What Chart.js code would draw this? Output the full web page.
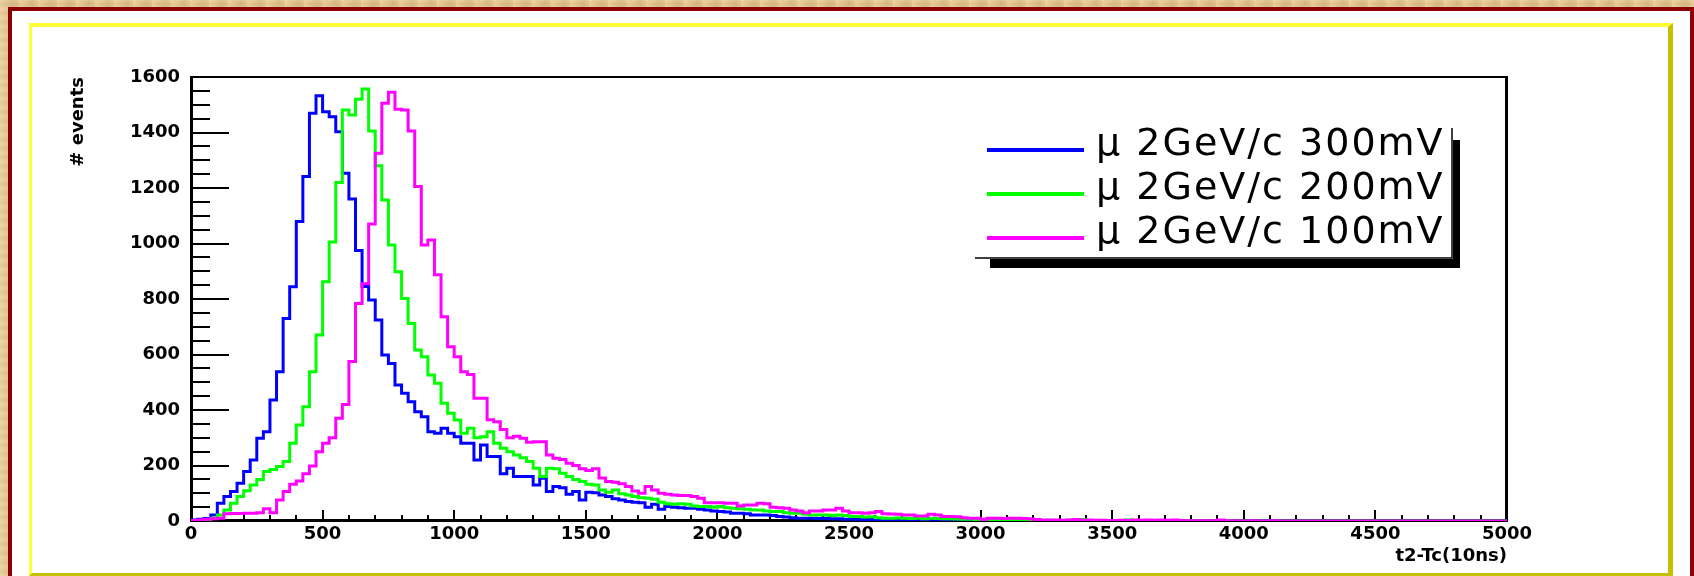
<!DOCTYPE html>
<html>
<head>
<meta charset="utf-8">
<script src="https://cdn.jsdelivr.net/npm/chart.js@4.4.1/dist/chart.umd.min.js"></script>
<style>
  html, body { margin: 0; padding: 0; width: 1694px; height: 576px; overflow: hidden; }
  body {
    background-color: #e2c48f;
    background-image:
      repeating-linear-gradient(90deg, rgba(255,240,200,0.25) 0px, rgba(255,240,200,0.0) 7px, rgba(150,110,50,0.12) 13px, rgba(255,240,200,0.0) 19px),
      repeating-linear-gradient(0deg, rgba(255,235,190,0.2) 0px, rgba(160,120,60,0.08) 5px, rgba(255,235,190,0.2) 9px);
    position: relative;
  }
  #redframe { position: absolute; left: 8px; top: 7px; width: 1686px; height: 640px; box-sizing: border-box;
    border: 4px solid #8b0000; background: #ffffff; }
  #padframe { position: absolute; left: 29px; top: 23px; width: 1644px; height: 553px; box-sizing: border-box;
    border-style: solid; border-width: 4px 5px 3px 3px; border-color: #ffff33 #c4c000 #c4c000 #ffff33; background: #ffffff; }
  #chart { position: absolute; left: 0; top: 0; }
</style>
</head>
<body>
<div id="redframe"></div>
<div id="padframe"></div>
<canvas id="chart" width="1694" height="576"></canvas>
<script>
// ---------------- data ----------------
const X_MIN = 0;
const X_MAX = 5000;
const BIN_WIDTH = 25;                       // 200 bins from 0 to 5000
const Y_MIN = 0;
const Y_MAX = 1600;

const xTickLabels = ['0', '500', '1000', '1500', '2000', '2500', '3000', '3500', '4000', '4500', '5000'];
const yTickLabels = ['0', '200', '400', '600', '800', '1000', '1200', '1400', '1600'];

const xTitle = 't2-Tc(10ns)';
const yTitle = '# events';

const seriesLabels = ['\u03bc 2GeV/c 300mV', '\u03bc 2GeV/c 200mV', '\u03bc 2GeV/c 100mV'];

// bin contents (events per 25-unit bin)
const counts300mV = [
  4, 6, 9, 22, 64, 88, 106, 136, 178, 220, 298, 322, 436, 538, 730, 844, 1079, 1241, 1469, 1532,
  1475, 1457, 1403, 1253, 1160, 975, 845, 796, 724, 598, 568, 490, 460, 430, 394, 376, 322, 316, 334, 316,
  304, 280, 280, 220, 274, 232, 232, 170, 190, 160, 160, 160, 130, 154, 106, 124, 120, 96, 106, 76,
  104, 102, 94, 88, 80, 76, 70, 68, 66, 50, 60, 42, 52, 50, 48, 46, 46, 42, 40, 36,
  34, 32, 28, 28, 26, 22, 22, 22, 20, 16, 14, 12, 10, 10, 10, 9, 10, 8, 8, 6,
  6, 6, 5, 6, 5, 4, 4, 3, 4, 3, 4, 3, 3, 4, 2, 3, 3, 2, 3, 2,
  3, 2, 2, 1, 2, 1, 1, 2, 1, 1, 2, 1, 1, 0, 1, 3, 0, 1, 0, 1,
  0, 1, 0, 0, 1, 0, 0, 0, 1, 0, 0, 0, 0, 1, 0, 0, 0, 0, 0, 0,
  0, 0, 0, 0, 0, 0, 0, 0, 0, 0, 0, 0, 0, 0, 0, 0, 0, 0, 0, 0,
  0, 0, 0, 0, 0, 0, 0, 0, 0, 0, 0, 0, 0, 0, 0, 0, 0, 0, 0, 0
];
const counts200mV = [
  0, 1, 3, 10, 22, 40, 64, 88, 109, 130, 150, 178, 186, 196, 214, 280, 346, 412, 538, 670,
  862, 1005, 1220, 1481, 1463, 1520, 1557, 1405, 1280, 1157, 995, 898, 802, 712, 616, 592, 526, 496, 424, 388,
  364, 316, 334, 300, 304, 322, 280, 262, 250, 238, 228, 214, 190, 160, 190, 188, 172, 160, 150, 142,
  132, 130, 112, 104, 112, 98, 94, 88, 84, 82, 78, 68, 62, 60, 62, 60, 54, 52, 52, 50,
  52, 48, 46, 44, 42, 40, 40, 36, 34, 34, 30, 28, 28, 24, 22, 22, 22, 20, 22, 20,
  16, 16, 14, 15, 12, 10, 10, 11, 10, 9, 10, 8, 10, 9, 8, 8, 7, 6, 6, 5,
  6, 4, 4, 3, 4, 3, 2, 3, 3, 2, 3, 2, 2, 3, 2, 5, 2, 1, 2, 1,
  2, 1, 4, 1, 1, 0, 1, 0, 1, 0, 0, 1, 0, 0, 0, 0, 0, 1, 0, 0,
  0, 0, 0, 0, 0, 0, 0, 0, 0, 0, 0, 0, 0, 0, 0, 0, 0, 0, 0, 0,
  0, 0, 0, 0, 0, 0, 0, 0, 0, 0, 0, 0, 0, 0, 0, 0, 0, 0, 0, 0
];
const counts100mV = [
  2, 4, 6, 8, 10, 26, 27, 27, 28, 28, 30, 44, 30, 76, 106, 132, 144, 170, 198, 250,
  280, 300, 370, 420, 575, 784, 855, 1070, 1325, 1505, 1545, 1484, 1481, 1405, 1205, 995, 1013, 887, 736, 628,
  592, 538, 528, 442, 442, 365, 358, 330, 300, 305, 298, 284, 286, 286, 238, 226, 222, 208, 200, 188,
  182, 188, 155, 142, 140, 134, 124, 108, 100, 124, 112, 100, 96, 94, 92, 92, 88, 82, 66, 66,
  66, 64, 64, 54, 58, 58, 64, 62, 50, 48, 46, 40, 36, 30, 36, 36, 40, 40, 46, 36,
  30, 30, 28, 30, 34, 26, 25, 24, 22, 22, 18, 18, 24, 22, 16, 16, 15, 12, 10, 10,
  6, 10, 10, 9, 10, 10, 9, 8, 5, 4, 4, 4, 3, 4, 5, 3, 4, 3, 3, 2,
  2, 3, 2, 4, 3, 4, 3, 4, 3, 4, 2, 1, 1, 1, 1, 1, 4, 1, 1, 0,
  0, 1, 0, 0, 1, 0, 0, 0, 0, 0, 0, 0, 0, 0, 0, 0, 0, 0, 0, 0,
  0, 0, 0, 0, 0, 0, 0, 0, 0, 0, 0, 0, 0, 0, 0, 0, 0, 0, 0, 0
];

const seriesColors = ['#0000ff', '#00ff00', '#ff00ff'];

// bin low edges (categories of the histogram)
const binLowEdges = counts300mV.map((_, i) => X_MIN + i * BIN_WIDTH);

function histPoints(values) {
  const pts = values.map((v, i) => ({ x: binLowEdges[i], y: v }));
  pts.push({ x: X_MAX, y: values[values.length - 1] });
  return pts;
}

// ---------------- plugins ----------------
const frameAndTicks = {
  id: 'frameAndTicks',
  beforeDatasetsDraw(chart) {
    const { ctx, chartArea: { left, top, right, bottom }, scales: { x, y } } = chart;
    ctx.save();
    ctx.strokeStyle = '#000000';
    ctx.lineCap = 'butt';
    // y ticks (inside, to the right)
    ctx.lineWidth = 2;
    for (let v = Y_MIN; v <= Y_MAX; v += 50) {
      const py = Math.round(y.getPixelForValue(v));
      const len = (v % 200 === 0) ? 38 : 19;
      ctx.beginPath(); ctx.moveTo(left, py); ctx.lineTo(left + len, py); ctx.stroke();
    }
    // x ticks (inside, upward)
    for (let v = X_MIN; v <= X_MAX; v += 100) {
      const px = Math.round(x.getPixelForValue(v));
      const len = (v % 500 === 0) ? 11 : 6;
      ctx.beginPath(); ctx.moveTo(px, bottom); ctx.lineTo(px, bottom - len); ctx.stroke();
    }
    // frame
    ctx.lineWidth = 2;
    ctx.beginPath(); ctx.moveTo(left, top); ctx.lineTo(right + 1, top); ctx.stroke();
    ctx.lineWidth = 3;
    ctx.beginPath(); ctx.moveTo(right - 0.5, top - 1); ctx.lineTo(right - 0.5, bottom + 1); ctx.stroke();
    ctx.beginPath(); ctx.moveTo(left + 0.5, top - 1); ctx.lineTo(left + 0.5, bottom + 1); ctx.stroke();
    ctx.beginPath(); ctx.moveTo(left, bottom - 0.5); ctx.lineTo(right, bottom - 0.5); ctx.stroke();
    ctx.restore();
  }
};

const rootLegend = {
  id: 'rootLegend',
  afterDraw(chart) {
    const { ctx } = chart;
    const boxLeft = 975, boxRight = 1452, boxTop = 128, boxBottom = 258;
    ctx.save();
    // shadow
    ctx.fillStyle = '#000000';
    ctx.fillRect(990, boxBottom + 1, boxRight + 8 - 990, 9);
    ctx.fillRect(boxRight + 1, boxTop + 12, 7, boxBottom + 10 - (boxTop + 12));
    // border (bottom and right)
    ctx.strokeStyle = '#000000';
    ctx.lineWidth = 1.5;
    ctx.beginPath();
    ctx.moveTo(boxLeft, boxBottom); ctx.lineTo(boxRight, boxBottom); ctx.lineTo(boxRight, boxTop);
    ctx.stroke();
    // entries
    const lineYs = [150, 194, 238];
    ctx.font = '38px "DejaVu Sans"';
    if ('letterSpacing' in ctx) ctx.letterSpacing = '2px';
    ctx.textAlign = 'left';
    ctx.textBaseline = 'alphabetic';
    chart.data.datasets.forEach((ds, i) => {
      const ly = lineYs[i];
      ctx.strokeStyle = ds.borderColor;
      ctx.lineWidth = 4;
      ctx.beginPath(); ctx.moveTo(987, ly); ctx.lineTo(1084, ly); ctx.stroke();
      ctx.fillStyle = '#000000';
      ctx.fillText(ds.label, 1096, ly + 5);
    });
    ctx.restore();
  }
};

// ---------------- chart ----------------
const tickFont = { family: '"DejaVu Sans"', weight: 'bold', size: 18 };

new Chart(document.getElementById('chart'), {
  type: 'line',
  data: {
    datasets: [
      { label: seriesLabels[0], data: histPoints(counts300mV), borderColor: seriesColors[0], order: 3 },
      { label: seriesLabels[1], data: histPoints(counts200mV), borderColor: seriesColors[1], order: 2 },
      { label: seriesLabels[2], data: histPoints(counts100mV), borderColor: seriesColors[2], order: 1 }
    ].map(d => Object.assign(d, {
      borderWidth: 3, pointRadius: 0, pointHoverRadius: 0, fill: false, tension: 0,
      stepped: 'before', backgroundColor: d.borderColor, borderCapStyle: 'butt', borderJoinStyle: 'miter'
    }))
  },
  options: {
    responsive: false,
    animation: false,
    events: [],
    layout: { padding: { left: 0, top: 77, right: 187, bottom: 0 } },
    plugins: { legend: { display: false }, tooltip: { enabled: false }, title: { display: false } },
    scales: {
      x: {
        type: 'linear', min: X_MIN, max: X_MAX,
        grid: { display: false, drawTicks: false },
        border: { display: false },
        ticks: {
          stepSize: 500, autoSkip: false, maxRotation: 0, minRotation: 0, padding: 3,
          color: '#000000', font: tickFont,
          callback: (v) => xTickLabels[Math.round((v - X_MIN) / 500)] ?? ''
        },
        title: { display: true, text: xTitle, align: 'end', color: '#000000',
          font: { family: '"DejaVu Sans"', weight: 'bold', size: 18 }, padding: { top: 0, bottom: 9 } },
        afterFit: (s) => { s.height = 55; }
      },
      y: {
        type: 'linear', min: Y_MIN, max: Y_MAX,
        grid: { display: false, drawTicks: false },
        border: { display: false },
        ticks: {
          stepSize: 200, autoSkip: false, padding: 11, color: '#000000', font: tickFont,
          callback: (v) => yTickLabels[Math.round((v - Y_MIN) / 200)] ?? ''
        },
        title: { display: true, text: yTitle, align: 'end', color: '#000000',
          font: { family: '"DejaVu Sans"', weight: 'bold', size: 18 }, padding: { top: 68, bottom: 0 } },
        afterFit: (s) => { s.width = 191; }
      }
    }
  },
  plugins: [frameAndTicks, rootLegend]
});
</script>
</body>
</html>
